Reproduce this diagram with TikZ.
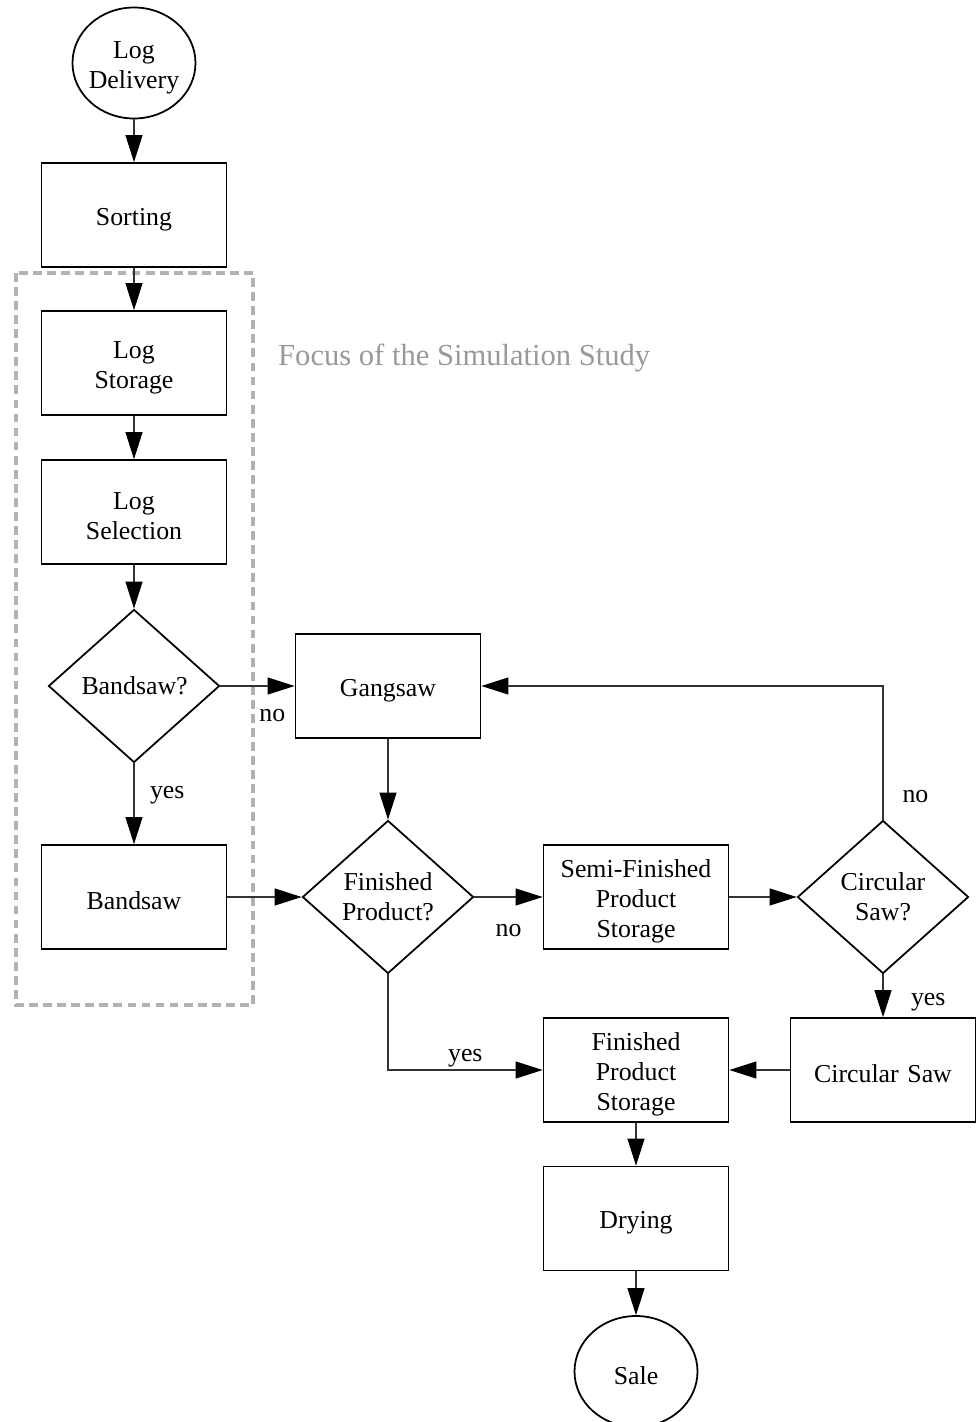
\documentclass[tikz,border=0pt]{standalone}
\usepackage{fontspec}
\setmainfont{Liberation Serif}
\usetikzlibrary{arrows.meta,positioning,shapes.geometric}

\begin{document}
\begin{tikzpicture}[node distance=2.97cm,>={Triangle[length=5.4mm,width=3.4mm,color=black]},font=\fontsize{14.7}{17}\selectfont]
		\tikzstyle{process}=[rectangle, draw=black, line width=1pt, minimum width=3.7cm, minimum height=2.08cm, text width=3.3cm, align=center, execute at begin node=\rule{0pt}{14.8pt}]
		\tikzstyle{decision}=[diamond, draw=black, line width=1pt, aspect=1.12, inner sep=0pt, minimum width=3.42cm, minimum height=3.06cm, text width=2.1cm, align=center]
		\tikzstyle{terminal}=[ellipse, draw=black, line width=1pt, inner xsep=-0.08cm, inner ysep=0pt, minimum width=2.46cm, minimum height=2.22cm, text width=1.85cm, align=center, execute at begin node=\rule{0pt}{14.8pt}]
		\tikzstyle{flow}=[->, draw=black!80, line width=0.6pt]
		\tikzstyle{answer}=[inner sep=0pt]
		\tikzstyle{focus}=[draw=black!30, line width=2.2pt, dash pattern=on 5pt off 3pt]

		\useasboundingbox (0,0) rectangle (19.54,-28.44);

		\node [terminal] (delivery) at (2.68,-1.26) {Log\\Delivery};

		\node [process] (sorting) [below of=delivery, node distance=3.04cm] {Sorting};

		\node [process] (storage) [below of=sorting, node distance=2.96cm] {Log\\Storage};

		\node [process] (selection) [below of=storage, node distance=2.98cm] {Log\\Selection};

		\node [decision] (bandsawq) [below of=selection, node distance=3.48cm] {Bandsaw?};

		\node [process] (bandsaw) [below of=bandsawq, node distance=4.22cm] {Bandsaw};

		\node [process] (gangsaw) [right of=bandsawq, node distance=5.08cm] {Gangsaw};

		\node [decision] (finq) [right of=bandsaw, node distance=5.08cm] {Finished\\Product?};

		\node [process] (semi) [right of=finq, node distance=4.96cm] {Semi-Finished\\Product\\Storage};

		\node [decision] (circq) [right of=semi, node distance=4.94cm] {Circular\\Saw?};

		\node [process] (circsaw) [below of=circq, node distance=3.46cm] {Circular Saw};

		\node [process] (fps) [below of=semi, node distance=3.46cm] {Finished\\Product\\Storage};

		\node [process] (drying) [below of=fps] {Drying};

		\node [terminal] (sale) [below of=drying, node distance=3.06cm] {Sale};

		% focus of the study
		\draw [focus] (0.32,-5.46) rectangle (5.06,-20.10);
		\node [anchor=west, text=black!40, font=\fontsize{17.4}{20}\selectfont] (focuslabel) at (5.44,-7.16) {Focus of the Simulation Study};

		\draw [flow] (delivery) -- (sorting);
		\draw [flow] (sorting) -- (storage);
		\draw [flow] (storage) -- (selection);
		\draw [flow] (selection) -- (bandsawq);
		\draw [flow] (bandsawq) -- node [answer, pos=0.7, below=0.46cm] {no} (gangsaw);
		\draw [flow] (bandsawq) -- node [answer, pos=0.39, right=0.31cm] {yes} (bandsaw);
		\draw [flow] (bandsaw) -- (finq);
		\draw [flow] (gangsaw) -- (finq);
		\draw [flow] (finq) -- node [answer, pos=0.5, below=0.54cm] {no} (semi);
		\draw [flow] (finq) |- node [answer, pos=0.75, above=0.05cm] {yes} (fps);
		\draw [flow] (semi) -- (circq);
		\draw [flow] (circq) |- node [answer, pos=0.086, right=0.38cm] {no} (gangsaw);
		\draw [flow] (circq) -- node [answer, pos=0.64, right=0.55cm] {yes} (circsaw);
		\draw [flow] (circsaw) -- (fps);
		\draw [flow] (fps) -- (drying);
		\draw [flow] (drying) -- (sale);
	\end{tikzpicture}
\end{document}
